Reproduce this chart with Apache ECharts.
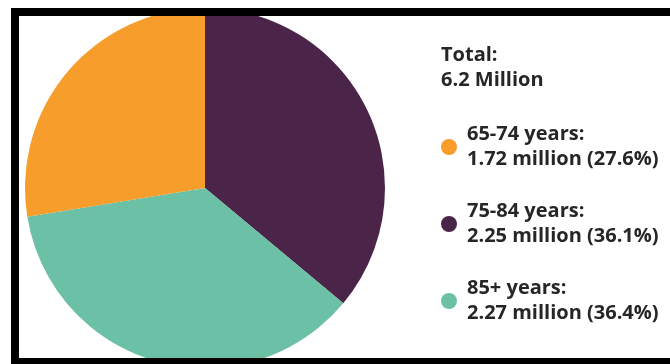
<!DOCTYPE html>
<html lang="en">
<head>
  <meta charset="UTF-8" />
  <title>Age groups</title>
  <script src="https://cdn.jsdelivr.net/npm/echarts@6/dist/echarts.min.js"></script>
  <style>
    html, body { margin: 0; padding: 0; background: #fff; }
    #chart { position: absolute; left: 0; top: 0; width: 670px; height: 364px; }
    /* black frame drawn over the chart, open on the right side */
    #frame {
      position: absolute; left: 11px; top: 8px; width: 700px; height: 342px;
      border-top: 8px solid #000; border-left: 8px solid #000; border-bottom: 6px solid #000;
      pointer-events: none;
    }
  </style>
</head>
<body>
  <div id="chart"></div>
  <div id="frame"></div>
  <script>
    // data, legend order
    const ageGroups = ['65-74', '75-84', '85+'];
    const millions = [1.72, 2.25, 2.27];
    const shares = [27.6, 36.1, 36.4];
    const colors = ['#F69D2B', '#4A2449', '#6CC0A6'];
    const totalLabel = '6.2 Million';
    // clockwise from 12 o'clock
    const sliceOrder = ['75-84', '85+', '65-74'];

    const pieData = sliceOrder.map(name => {
      const i = ageGroups.indexOf(name);
      return { name: name, value: millions[i], itemStyle: { color: colors[i] } };
    });

    const font = { fontFamily: 'Open Sans', fontSize: 20, fontWeight: 'bold', color: '#262626', lineHeight: 25 };

    const chart = echarts.init(document.getElementById('chart'));
    chart.setOption({
      animation: false,
      title: {
        text: 'Total:\n' + totalLabel,
        left: 436,
        top: 38,
        textStyle: font
      },
      legend: {
        data: ageGroups,
        orient: 'vertical',
        left: 436,
        top: 117,
        icon: 'circle',
        itemWidth: 16,
        itemHeight: 16,
        itemGap: 27,
        formatter: function (name) {
          const i = ageGroups.indexOf(name);
          return name + ' years:\n' + millions[i].toFixed(2) + ' million (' + shares[i].toFixed(1) + '%)';
        },
        textStyle: Object.assign({ padding: [0, 0, 0, 5] }, font)
      },
      series: [{
        type: 'pie',
        center: [205, 188],
        radius: 180,
        startAngle: 90,
        clockwise: true,
        silent: true,
        label: { show: false },
        labelLine: { show: false },
        itemStyle: { borderWidth: 0 },
        data: pieData
      }]
    });
  </script>
</body>
</html>
